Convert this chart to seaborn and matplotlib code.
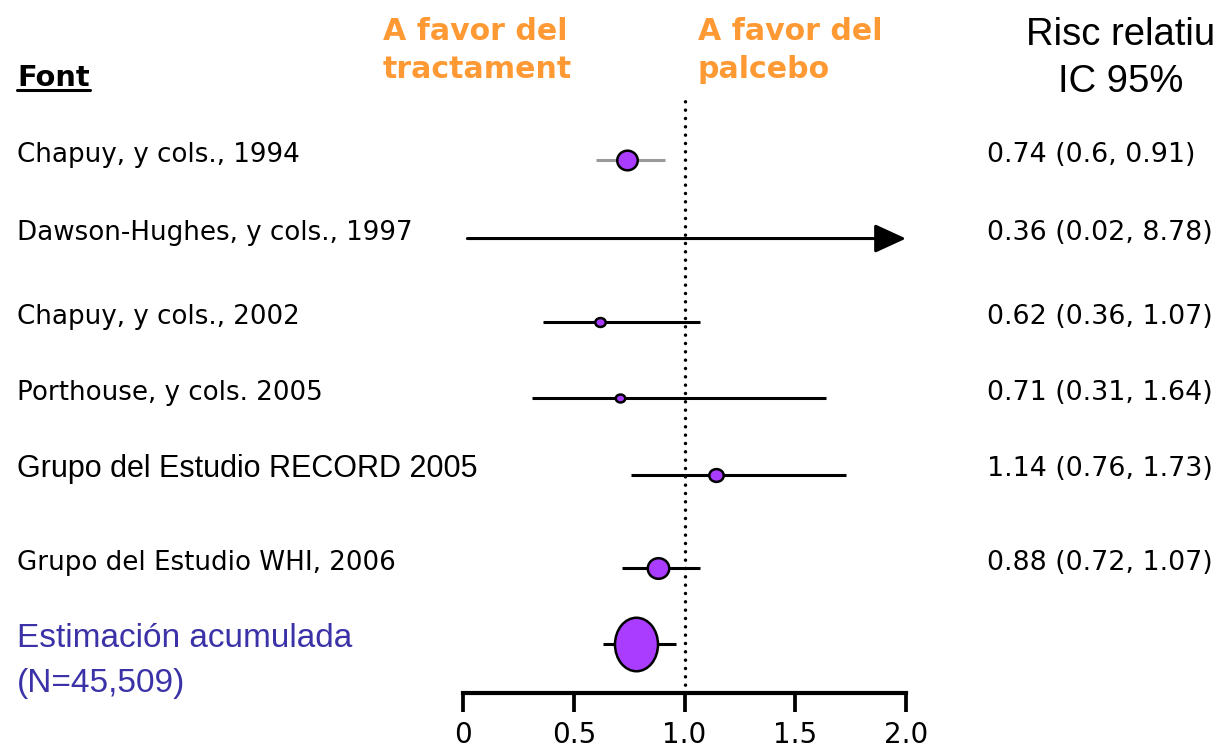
import matplotlib
matplotlib.use("Agg")
import matplotlib.pyplot as plt
import matplotlib.transforms as mtransforms
from matplotlib.lines import Line2D
from matplotlib.path import Path
import seaborn as sns

# ---- data -------------------------------------------------------------
studies = [
    "Chapuy, y cols., 1994",
    "Dawson-Hughes, y cols., 1997",
    "Chapuy, y cols., 2002",
    "Porthouse, y cols. 2005",
    "Grupo del Estudio RECORD 2005",
    "Grupo del Estudio WHI, 2006",
]
rr = [0.74, 0.36, 0.62, 0.71, 1.14, 0.88]
ci_low = [0.6, 0.02, 0.36, 0.31, 0.76, 0.72]
ci_high = [0.91, 8.78, 1.07, 1.64, 1.73, 1.07]

pooled_label = ["Estimación acumulada", "(N=45,509)"]
pooled_rr = 0.78
pooled_low = 0.63
pooled_high = 0.96

xticks = [0, 0.5, 1.0, 1.5, 2.0]
xtick_labels = ["0", "0.5", "1.0", "1.5", "2.0"]

# ---- layout / style ----------------------------------------------------
W, H = 1221, 748
row_pos = [0.0, 1.03, 2.13, 3.13, 4.13, 5.36]
pooled_pos = 6.36
# marker outline (width, height) in pixels, 0 = no box drawn
marker_px = [(23, 22), (0, 0), (13, 11), (12, 10), (17, 15), (24, 23)]
pooled_px = (45, 56)
ci_colors = ["#9a9a9a", "black", "black", "black", "black", "black"]
label_fonts = ["DejaVu Sans", "DejaVu Sans", "DejaVu Sans", "DejaVu Sans",
               "Liberation Sans", "DejaVu Sans"]

FILL = "#AA3CFF"
ORANGE = "#FF9933"
POOLED_TXT = "#3A32A6"
EDGE_PT = 1.8
XMAX = 2.0

sns.set_theme(style="white")
plt.rcParams["font.family"] = ["DejaVu Sans"]

fig = plt.figure(figsize=(W / 100, H / 100), dpi=100)
ax = fig.add_axes([463 / W, 1 - 693 / H, 443 / W, (693 - 100) / H])
ax.set_xlim(0, XMAX)
ax.set_ylim(7.0, -0.79)


def fx(px):
    return px / W


def fy(py):
    return 1 - py / H


def ellipse_marker(w, h):
    return mtransforms.Affine2D().scale(w, h).transform_path(Path.unit_circle())


def marker_size(w, h):
    return ((max(w, h) - EDGE_PT / 0.72) * 0.72) ** 2


# reference line at RR = 1
ax.axvline(1.0, color="black", lw=2.5, linestyle=(0, (0.01, 2.39)),
           dash_capstyle="round", zorder=1)

# confidence intervals and point estimates
for i, name in enumerate(studies):
    y = row_pos[i]
    if ci_high[i] > XMAX:
        ax.annotate("", xy=(XMAX, y), xytext=(ci_low[i], y),
                    arrowprops=dict(arrowstyle="-|>,head_length=1.2,head_width=0.55",
                                    lw=2.2, color="black", shrinkA=0, shrinkB=0,
                                    mutation_scale=16),
                    zorder=2)
    else:
        ax.hlines(y, ci_low[i], ci_high[i], color=ci_colors[i], lw=2.2, zorder=2)
    w, h = marker_px[i]
    if w > 0:
        sns.scatterplot(x=[rr[i]], y=[y], marker=ellipse_marker(w, h),
                        s=marker_size(w, h), color=FILL, edgecolor="black",
                        linewidth=EDGE_PT, ax=ax, zorder=3, legend=False)

# pooled estimate
ax.hlines(pooled_pos, pooled_low, pooled_high, color="black", lw=2.2, zorder=2)
sns.scatterplot(x=[pooled_rr], y=[pooled_pos], marker=ellipse_marker(*pooled_px),
                s=marker_size(*pooled_px), color=FILL, edgecolor="black",
                linewidth=EDGE_PT, ax=ax, zorder=3, legend=False)

# axes styling
for side in ["left", "top", "right"]:
    ax.spines[side].set_visible(False)
ax.spines["bottom"].set_linewidth(3)
ax.spines["bottom"].set_color("black")
ax.set_yticks([])
ax.set_xticks(xticks)
ax.set_xticklabels(xtick_labels, fontfamily="DejaVu Sans", fontsize=20)
ax.tick_params(axis="x", direction="out", length=14, width=2.7, pad=6,
               color="black", labelcolor="black", bottom=True)
ax.xaxis.get_major_ticks()[3].tick1line.set_color("#9a9a9a")
ax.set_xlabel("")
ax.set_ylabel("")
ax.patch.set_alpha(0)

# row labels and values
trans = mtransforms.blended_transform_factory(fig.transFigure, ax.transData)


def fmt(v):
    return f"{v:g}"


for i, name in enumerate(studies):
    y = row_pos[i] - 0.07
    fs = 22 if label_fonts[i] == "Liberation Sans" else 18.8
    ax.text(fx(17), y, name, transform=trans, ha="left", va="center",
            fontfamily=label_fonts[i], fontsize=fs, color="black")
    ax.text(fx(987), y, f"{fmt(rr[i])} ({fmt(ci_low[i])}, {fmt(ci_high[i])})",
            transform=trans, ha="left", va="center", fontfamily="DejaVu Sans",
            fontsize=19.4, color="black")

ax.text(fx(17), pooled_pos - 0.08, pooled_label[0], transform=trans, ha="left",
        va="center", fontfamily="Liberation Sans", fontsize=24, color=POOLED_TXT)
ax.text(fx(17), pooled_pos + 0.52, pooled_label[1], transform=trans, ha="left",
        va="center", fontfamily="Liberation Sans", fontsize=24, color=POOLED_TXT)

# column headers
font_txt = fig.text(fx(17), fy(86), "Font", ha="left", va="baseline",
                    fontfamily="DejaVu Sans", fontweight="bold", fontsize=20.8,
                    color="black")
for x0, lines in [(383, ["A favor del", "tractament"]),
                  (698, ["A favor del", "palcebo"])]:
    for yb, line in zip([40, 78], lines):
        fig.text(fx(x0), fy(yb), line, ha="left", va="baseline",
                 fontfamily="DejaVu Sans", fontweight="bold", fontsize=21.6,
                 color=ORANGE)
fig.text(fx(1121), fy(45), "Risc relatiu", ha="center", va="baseline",
         fontfamily="Liberation Sans", fontsize=27.5, color="black")
fig.text(fx(1121), fy(92), "IC 95%", ha="center", va="baseline",
         fontfamily="Liberation Sans", fontsize=27.5, color="black")

# underline for the "Font" header
fig.canvas.draw()
bb = font_txt.get_window_extent(renderer=fig.canvas.get_renderer())
fig.add_artist(Line2D([bb.x0 / W, bb.x1 / W], [fy(90), fy(90)],
                      transform=fig.transFigure, color="black", lw=2.2))

fig.savefig("out.png", dpi=100)
